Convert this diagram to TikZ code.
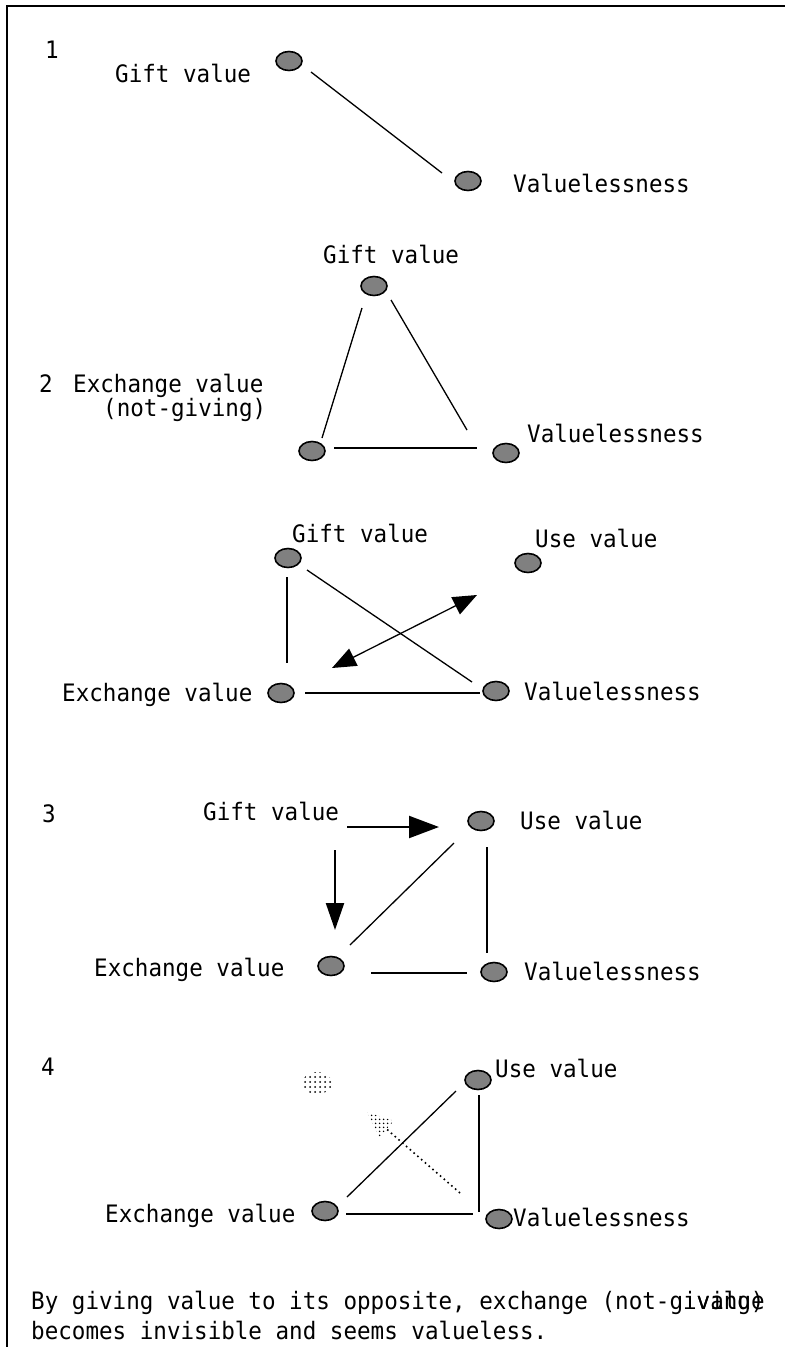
\documentclass[tikz,border=0pt]{standalone}
\usepackage{fontspec}
\newfontfamily\geneva[FakeStretch=0.94]{DejaVu Sans Mono}
\usetikzlibrary{arrows.meta,calc,patterns.meta,shapes.geometric}
\begin{document}
\begin{tikzpicture}[x=1pt,y=-1pt,
  lbl/.style={anchor=base west, inner sep=0pt, font=\geneva\fontsize{24}{28}\selectfont},
  dot/.style={ellipse, draw, line width=1.6pt, fill=black!50, minimum width=26pt, minimum height=19pt, inner sep=0pt},
  ghostdot/.style={ellipse, minimum width=30pt, minimum height=22pt, inner sep=0pt, pattern={Dots[distance=5pt,radius=1pt]}},
  link/.style={line width=1.3pt},
  heavylink/.style={line width=2.2pt},
  ghostlink/.style={line width=1.6pt, dash pattern=on 1.6pt off 3.4pt}
]
\useasboundingbox (0,0) rectangle (785,1347);
% frame
\draw[line width=2.5pt] (7,1347) -- (7,6) -- (785,6);

% --- 1 ---
\node[lbl] at (45,58) {1};
\node[lbl] at (115,82) {Gift value};
\node[dot] (G1) at (289,61) {};
\node[dot] (V1) at (468,181) {};
\node[lbl] at (513,192) {Valuelessness};
\draw[link] ([shift={(22,11)}]G1.center) -- ([shift={(-26,-8)}]V1.center);

% --- 2 ---
\node[lbl] at (323,263) {Gift value};
\node[dot] (G2) at (374,286) {};
\node[lbl] at (39,392) {2};
\node[lbl] at (73,392) {Exchange value};
\node[lbl] at (103,416) {(not-giving)};
\node[dot] (E2) at (312,451) {};
\node[dot] (V2) at (506,453) {};
\node[lbl] at (527,442) {Valuelessness};
\draw[link] ([shift={(-12,22)}]G2.center) -- ([shift={(10,-13)}]E2.center);
\draw[link] ([shift={(17,14)}]G2.center) -- ([shift={(-39,-23)}]V2.center);
\draw[heavylink] ([shift={(22,-3)}]E2.center) -- ([shift={(-29,-5)}]V2.center);

% --- 2b ---
\node[lbl] at (292,542) {Gift value};
\node[dot] (G3) at (288,558) {};
\node[lbl] at (535,547) {Use value};
\node[dot] (U3) at (528,563) {};
\node[lbl] at (62,701) {Exchange value};
\node[dot] (E3) at (281,693) {};
\node[dot] (V3) at (496,691) {};
\node[lbl] at (524,700) {Valuelessness};
\draw[link] ([shift={(-1,19)}]G3.center) -- ([shift={(6,-30)}]E3.center);
\draw[link] ([shift={(19,12)}]G3.center) -- ([shift={(-24,-9)}]V3.center);
\draw[link, {Triangle[length=24pt,width=19pt]}-{Triangle[length=24pt,width=19pt]}]
  ([shift={(51,-25)}]E3.center) -- ([shift={(-51,32)}]U3.center);
\draw[heavylink] ([shift={(24,0)}]E3.center) -- ([shift={(-16,2)}]V3.center);

% --- 3 ---
\node[lbl] at (42,822) {3};
\node[lbl] (g4) at (203,820) {Gift value};
\node[dot] (U4) at (481,821) {};
\node[lbl] at (520,829) {Use value};
\node[lbl] at (94,976) {Exchange value};
\node[dot] (E4) at (331,966) {};
\node[dot] (V4) at (494,972) {};
\node[lbl] at (524,980) {Valuelessness};
\draw[heavylink, -{Triangle[length=30pt,width=22pt]}] ([shift={(144,7)}]g4.base west) -- ([shift={(-42,6)}]U4.center);
\draw[heavylink, -{Triangle[length=27pt,width=18pt]}] ([shift={(132,30)}]g4.base west) -- ([shift={(4,-36)}]E4.center);
\draw[link] ([shift={(19,-21)}]E4.center) -- ([shift={(-27,22)}]U4.center);
\draw[link] ([shift={(6,26)}]U4.center) -- ([shift={(-7,-19)}]V4.center);
\draw[heavylink] ([shift={(40,7)}]E4.center) -- ([shift={(-27,1)}]V4.center);

% --- 4 ---
\node[lbl] at (41,1075) {4};
\node[ghostdot] (GG) at (317,1083) {};
\node[dot] (U5) at (478,1080) {};
\node[lbl] at (495,1077) {Use value};
\node[lbl] at (105,1222) {Exchange value};
\node[dot] (E5) at (325,1211) {};
\node[dot] (V5) at (499,1219) {};
\node[lbl] at (513,1226) {Valuelessness};
\draw[link] ([shift={(22,-14)}]E5.center) -- ([shift={(-22,11)}]U5.center);
\draw[link] ([shift={(1,15)}]U5.center) -- ([shift={(-20,-7)}]V5.center);
\draw[heavylink] ([shift={(21,3)}]E5.center) -- ([shift={(-26,-5)}]V5.center);
% faded arrow back towards the vanished gift value
\coordinate (gtail) at ([shift={(-39,-26)}]V5.center);
\coordinate (gtip) at ([shift={(50,29)}]GG.center);
\coordinate (gbase) at ($(gtip)!26pt!(gtail)$);
\draw[ghostlink] (gtail) -- (gbase);
\fill[pattern={Dots[distance=4pt,radius=1pt]}]
  (gtip) -- ($(gbase)!11pt!90:(gtip)$) -- ($(gbase)!11pt!-90:(gtip)$) -- cycle;

% caption
\node[lbl] (cap1) at (31,1309) {By giving value to its opposite, exchange (not-giving)};
\node[lbl, anchor=base east] at (cap1.base east) {value};
\node[lbl] at (31,1339) {becomes invisible and seems valueless.};
\end{tikzpicture}
\end{document}
